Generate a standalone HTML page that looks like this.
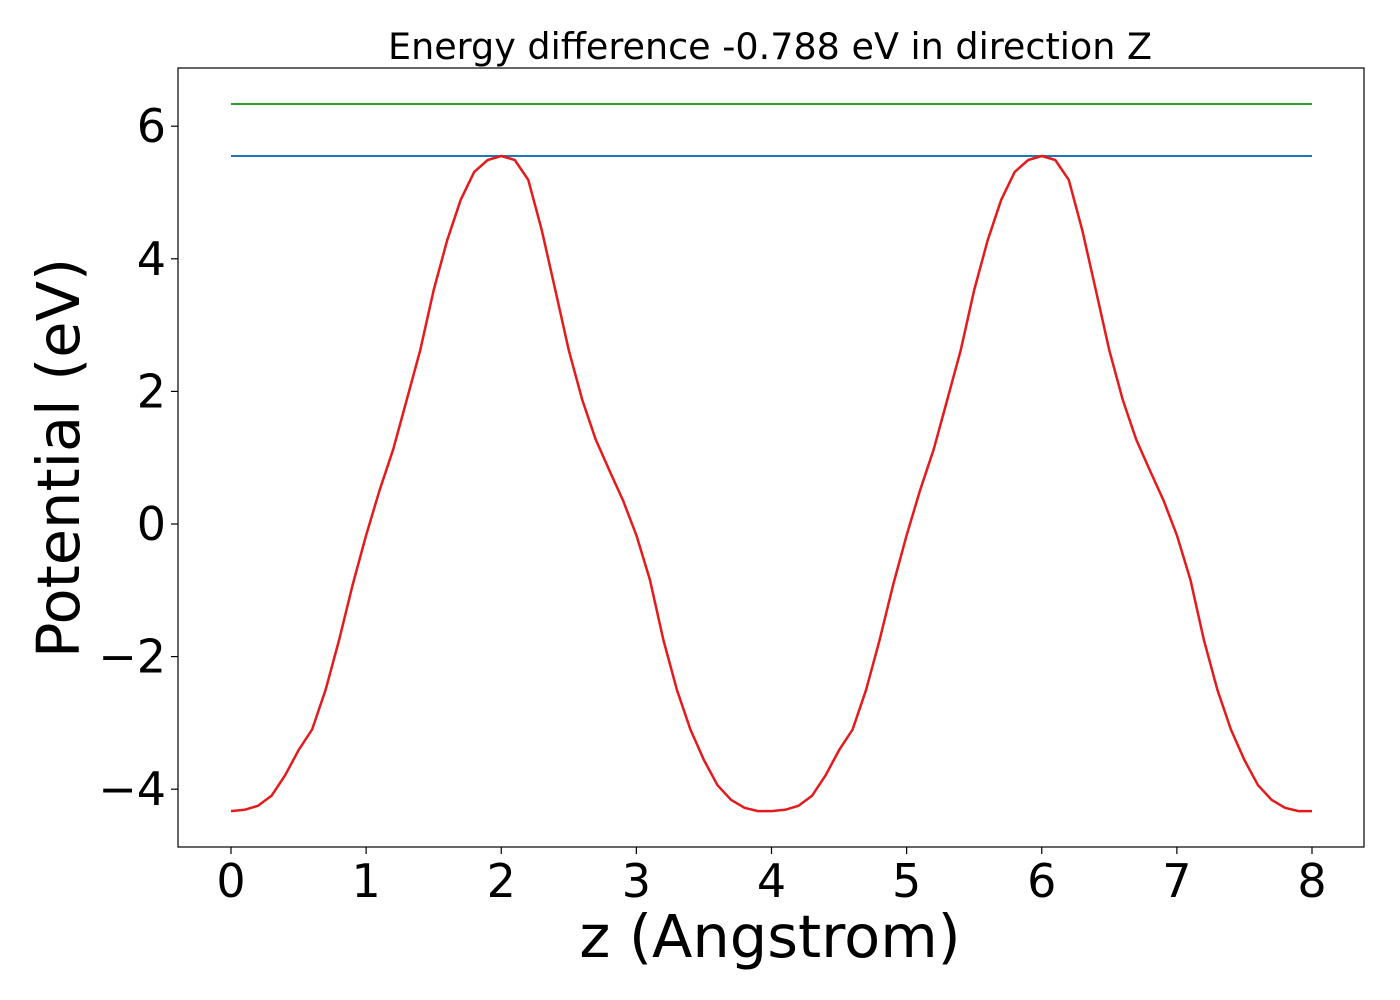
<!DOCTYPE html>
<html><head><meta charset="utf-8"><style>
html,body{margin:0;padding:0;background:#fff;}
svg{display:block;font-family:"DejaVu Sans","Liberation Sans",sans-serif;}
</style></head><body>
<svg id="chart" width="1400" height="1000"></svg>
<script>
const xTicks=[0,1,2,3,4,5,6,7,8];
const yTicks=[-4,-2,0,2,4,6];
const yTickLabels=["\u22124","\u22122","0","2","4","6"];
const greenLevel=6.335;
const blueLevel=5.55;
const zValues=[];
for(let i=0;i<=80;i++) zValues.push(+(i*0.1).toFixed(1));
const periodValues=[-4.33,-4.31,-4.25,-4.1,-3.79,-3.41,-3.1,-2.5,-1.75,-0.92,-0.17,0.51,1.12,1.87,2.62,3.53,4.28,4.89,5.31,5.49,5.55,5.49,5.19,4.43,3.53,2.62,1.87,1.27,0.81,0.36,-0.17,-0.84,-1.75,-2.5,-3.1,-3.56,-3.94,-4.16,-4.28,-4.33];
const potential=periodValues.concat(periodValues).concat([-4.33]);

const NS="http://www.w3.org/2000/svg";
const svg=document.getElementById('chart');
const L=178,R=1364,T=68,B=847;
const xs=v=>231+v*(1312-231)/8;
const ys=v=>524-v*66.3;
function mk(tag,attrs,parent){const e=document.createElementNS(NS,tag);for(const k in attrs)e.setAttribute(k,attrs[k]);(parent||svg).appendChild(e);return e;}

const title=mk('text',{x:770,y:59,'text-anchor':'middle','font-size':36.5,fill:'#000'});


title.textContent='Energy difference -0.788 eV in direction Z';

const g=mk('line',{x1:xs(0),x2:xs(8),y1:ys(greenLevel),y2:ys(greenLevel),stroke:'#2ca02c','stroke-width':2});


const b=mk('line',{x1:xs(0),x2:xs(8),y1:ys(blueLevel),y2:ys(blueLevel),stroke:'#1f77b4','stroke-width':2});



let d='';
zValues.forEach((z,i)=>{d+=(i?'L':'M')+xs(z).toFixed(1)+','+ys(potential[i]).toFixed(1);});
const p=mk('path',{d:d,fill:'none',stroke:'#e41a1c','stroke-width':2.5,'stroke-linejoin':'round'});



const frame=mk('rect',{x:L,y:T,width:R-L,height:B-T,fill:'none',stroke:'#000','stroke-width':1.2});



xTicks.forEach(v=>{
  const t=mk('line',{x1:xs(v),x2:xs(v),y1:B,y2:B+7,stroke:'#000','stroke-width':1.2});
  
  
  const tx=mk('text',{x:xs(v),y:B+50,'text-anchor':'middle','font-size':46,fill:'#000'});
  
  
  tx.textContent=String(v);
});
yTicks.forEach((v,i)=>{
  const t=mk('line',{x1:L-7,x2:L,y1:ys(v),y2:ys(v),stroke:'#000','stroke-width':1.2});
  
  
  const tx=mk('text',{x:L-12,y:ys(v)+16,'text-anchor':'end','font-size':46,fill:'#000'});
  
  
  tx.textContent=yTickLabels[i];
});
const xl=mk('text',{x:770,y:957,'text-anchor':'middle','font-size':59,fill:'#000'});


xl.textContent='z (Angstrom)';
const yl=mk('text',{x:0,y:0,'text-anchor':'middle','font-size':59,fill:'#000',transform:'translate(79,458) rotate(-90)'});


yl.textContent='Potential (eV)';
</script>
</body></html>
